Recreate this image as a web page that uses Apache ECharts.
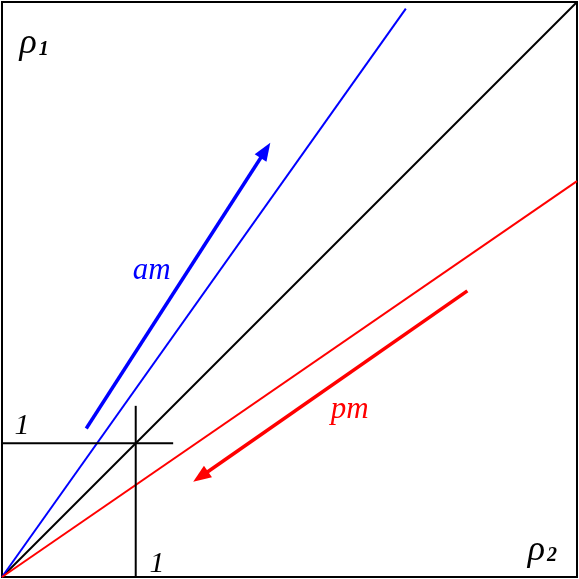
<!DOCTYPE html>
<html><head><meta charset="utf-8">
<script src="https://cdn.jsdelivr.net/npm/echarts@6/dist/echarts.min.js"></script>
<style>html,body{margin:0;padding:0;background:#fff}#c{width:579px;height:579px}</style>
</head><body><div id="c"></div>
<script>
var axisMax = 4.3;
var diagonal = [[0,0],[4.3,4.3]];
var amLine = [[0,0],[3.02,4.25]];
var pmLine = [[0,0],[4.3,2.96]];
var crossV = [[1,0],[1,1.28]];
var crossH = [[0,1],[1.28,1]];
var amArrow = [[0.63,1.11],[1.97,3.19]];
var pmArrow = [[3.48,2.14],[1.485,0.75]];
var labels = [
  {pos:[0.15,1.13], main:'1', sub:'', color:'#000', size:30},
  {pos:[1.16,0.10], main:'1', sub:'', color:'#000', size:30},
  {pos:[0.26,3.99], main:'ρ', sub:'1', color:'#000', size:36},
  {pos:[4.06,0.20], main:'ρ', sub:'2', color:'#000', size:36},
  {pos:[1.12,2.29], main:'am', sub:'', color:'#0000ff', size:31},
  {pos:[2.6,1.25], main:'pm', sub:'', color:'#ff0000', size:31}
];
var F = 'Liberation Serif';
function ln(data,color,w){return {type:'line',data:data,symbol:'none',lineStyle:{color:color,width:w},animation:false,silent:true};}
var chart = echarts.init(document.getElementById('c'));
chart.setOption({
  animation:false,
  grid:{left:2,right:2,top:2,bottom:2,show:true,borderColor:'#000',borderWidth:2},
  xAxis:{type:'value',min:0,max:axisMax,show:false},
  yAxis:{type:'value',min:0,max:axisMax,show:false},
  series:[
    ln(diagonal,'#000',2),
    ln(amLine,'#0000ff',2),
    ln(pmLine,'#ff0000',2),
    ln(crossV,'#000',2),
    ln(crossH,'#000',2),
    {type:'lines',coordinateSystem:'cartesian2d',symbol:['none','triangle'],symbolSize:[0,[14,18]],
     lineStyle:{width:3.5,opacity:1},animation:false,
     data:[{coords:amArrow,lineStyle:{color:'#0000ff'}},{coords:pmArrow,lineStyle:{color:'#ff0000'}}]}
  ]
});
var els = [];
labels.forEach(function(l){
  var p = chart.convertToPixel({gridIndex:0}, l.pos);
  els.push({type:'text',x:p[0],y:p[1],silent:true,style:{text:l.main,fontFamily:F,fontStyle:'italic',fontSize:l.size,fill:l.color,align:l.sub?'right':'center',verticalAlign:'middle'}});
  if(l.sub){
    els.push({type:'text',x:p[0]+2,y:p[1]+6,silent:true,style:{text:l.sub,fontFamily:F,fontStyle:'italic',fontWeight:'bold',fontSize:20,fill:l.color,align:'left',verticalAlign:'middle'}});
  }
});
chart.setOption({graphic:els});
</script></body></html>
